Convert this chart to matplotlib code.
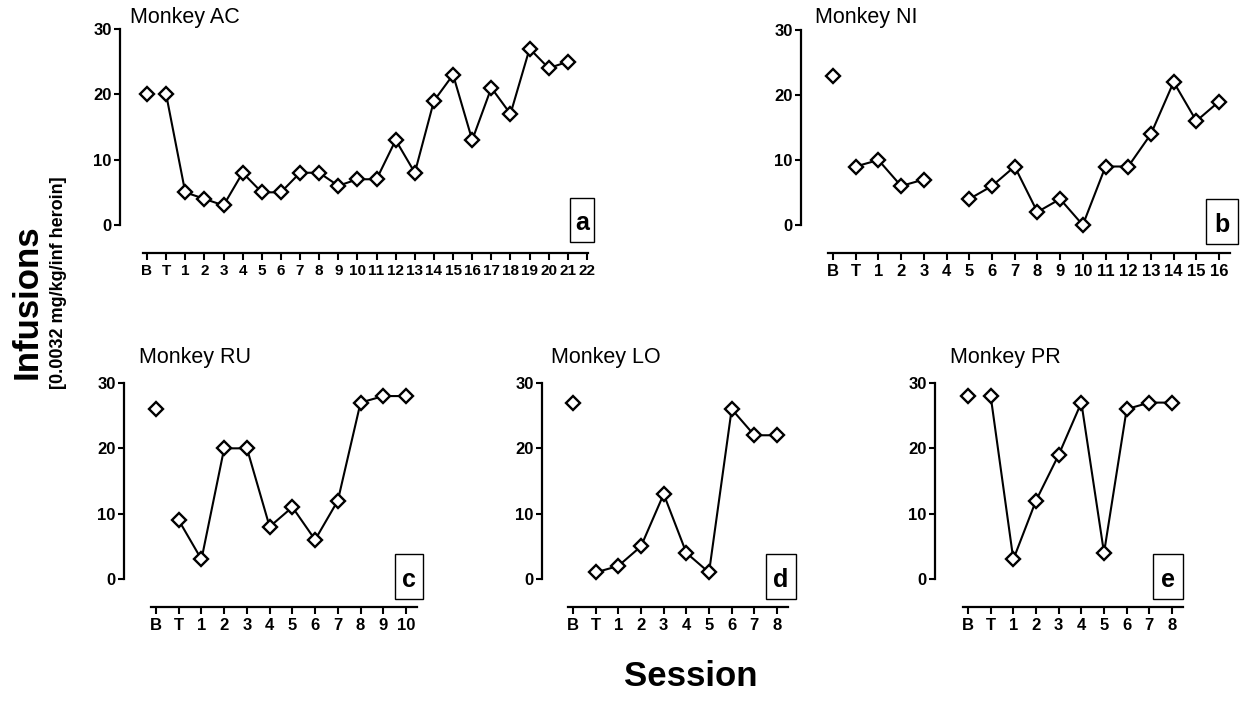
import numpy as np
import matplotlib
matplotlib.use("Agg")
import matplotlib.pyplot as plt
from matplotlib.patches import Rectangle

plt.rcParams['font.family'] = ['Liberation Sans', 'DejaVu Sans']

# ---------------- data ----------------
ac_labels = ['B', 'T', '1', '2', '3', '4', '5', '6', '7', '8', '9', '10', '11',
             '12', '13', '14', '15', '16', '17', '18', '19', '20', '21', '22']
ac_values = [20, 20, 5, 4, 3, 8, 5, 5, 8, 8, 6, 7, 7,
             13, 8, 19, 23, 13, 21, 17, 27, 24, 25, None]

ni_labels = ['B', 'T', '1', '2', '3', '4', '5', '6', '7', '8', '9', '10', '11',
             '12', '13', '14', '15', '16']
ni_values = [23, 9, 10, 6, 7, None, 4, 6, 9, 2, 4, 0, 9, 9, 14, 22, 16, 19]

ru_labels = ['B', 'T', '1', '2', '3', '4', '5', '6', '7', '8', '9', '10']
ru_values = [26, 9, 3, 20, 20, 8, 11, 6, 12, 27, 28, 28]

lo_labels = ['B', 'T', '1', '2', '3', '4', '5', '6', '7', '8']
lo_values = [27, 1, 2, 5, 13, 4, 1, 26, 22, 22]

pr_labels = ['B', 'T', '1', '2', '3', '4', '5', '6', '7', '8']
pr_values = [28, 28, 3, 12, 19, 27, 4, 26, 27, 27]

y_ticks = [0, 10, 20, 30]

W, H = 1240, 702


def fx(x):
    return x / W


def fy(y):
    return 1 - y / H


fig = plt.figure(figsize=(W / 100, H / 100), dpi=100)
fig.patch.set_facecolor('white')

panels = [
    dict(labels=ac_labels, values=ac_values, title='Monkey AC', letter='a',
         left=120, right=588, top=29, y0=225, bottom=253, xB=147, ppu=19.13,
         xstart=143, tpos=(130, 17), box=(570, 198, 594, 242), xls=11),
    dict(labels=ni_labels, values=ni_values, title='Monkey NI', letter='b',
         left=801, right=1230, top=30, y0=225, bottom=253, xB=833, ppu=22.71,
         xstart=828, tpos=(815, 17), box=(1206, 199, 1238, 244), xls=12),
    dict(labels=ru_labels, values=ru_values, title='Monkey RU', letter='c',
         left=124, right=417, top=383, y0=579, bottom=607, xB=156, ppu=22.73,
         xstart=151, tpos=(139, 358), box=(395, 554, 423, 599), xls=12),
    dict(labels=lo_labels, values=lo_values, title='Monkey LO', letter='d',
         left=542, right=788, top=383, y0=579, bottom=607, xB=573, ppu=22.67,
         xstart=568, tpos=(551, 358), box=(766, 554, 796, 599), xls=12),
    dict(labels=pr_labels, values=pr_values, title='Monkey PR', letter='e',
         left=935, right=1183, top=383, y0=579, bottom=607, xB=968, ppu=22.67,
         xstart=963, tpos=(950, 358), box=(1153, 554, 1183, 599), xls=12),
]

for p in panels:
    ax = fig.add_axes([fx(p['left']), fy(p['bottom']),
                       fx(p['right']) - fx(p['left']),
                       fy(p['top']) - fy(p['bottom'])])
    ax.set_facecolor('none')
    xl = (p['left'] - p['xB']) / p['ppu']
    xr = (p['right'] - p['xB']) / p['ppu']
    xs = (p['xstart'] - p['xB']) / p['ppu']
    ypu = (p['y0'] - p['top']) / 30.0
    yb = -(p['bottom'] - p['y0']) / ypu
    ax.set_xlim(xl, xr)
    ax.set_ylim(yb, 30)

    vals = np.array([np.nan if v is None else v for v in p['values']], dtype=float)
    pos = np.arange(len(p['labels']))

    mk = dict(marker='D', markersize=7.0, markerfacecolor='white',
              markeredgecolor='black', markeredgewidth=1.7, clip_on=False, zorder=3)
    ax.plot(pos[:1], vals[:1], linestyle='none', **mk)
    ax.plot(pos[1:], vals[1:], color='black', linewidth=1.5, **mk)

    for s in ['top', 'right']:
        ax.spines[s].set_visible(False)
    for s in ['left', 'bottom']:
        ax.spines[s].set_linewidth(1.6)
    ax.spines['left'].set_bounds(0, 30)
    ax.spines['bottom'].set_bounds(xs, xr)

    ax.set_yticks(y_ticks)
    ax.set_xticks(pos)
    ax.set_xticklabels(p['labels'])
    ax.tick_params(axis='x', direction='out', length=5, width=1.5, pad=3.0,
                   labelsize=p['xls'])
    ax.tick_params(axis='y', direction='out', length=4.5, width=1.5, pad=1.5,
                   labelsize=12)
    for lab in ax.get_xticklabels() + ax.get_yticklabels():
        lab.set_fontweight('bold')

    fig.text(fx(p['tpos'][0]), fy(p['tpos'][1]), p['title'], ha='left',
             va='center', fontsize=15.5)

    x0, y0b, x1, y1b = p['box']
    fig.add_artist(Rectangle((fx(x0), fy(y1b)), fx(x1) - fx(x0), fy(y0b) - fy(y1b),
                             transform=fig.transFigure, fill=False,
                             edgecolor='black', linewidth=1.0))
    fig.text(fx((x0 + x1) / 2), fy(y1b - 12), p['letter'], ha='center',
             va='baseline', fontsize=18, fontweight='bold')

fig.text(fx(27), fy(302), 'Infusions', rotation=90, ha='center', va='center',
         fontsize=25, fontweight='bold')
fig.text(fx(59), fy(283), '[0.0032 mg/kg/inf heroin]', rotation=90, ha='center',
         va='center', fontsize=13, fontweight='bold')
fig.text(fx(691), fy(677), 'Session', ha='center', va='center', fontsize=25,
         fontweight='bold')

fig.savefig('out.png', dpi=100, facecolor='white')
